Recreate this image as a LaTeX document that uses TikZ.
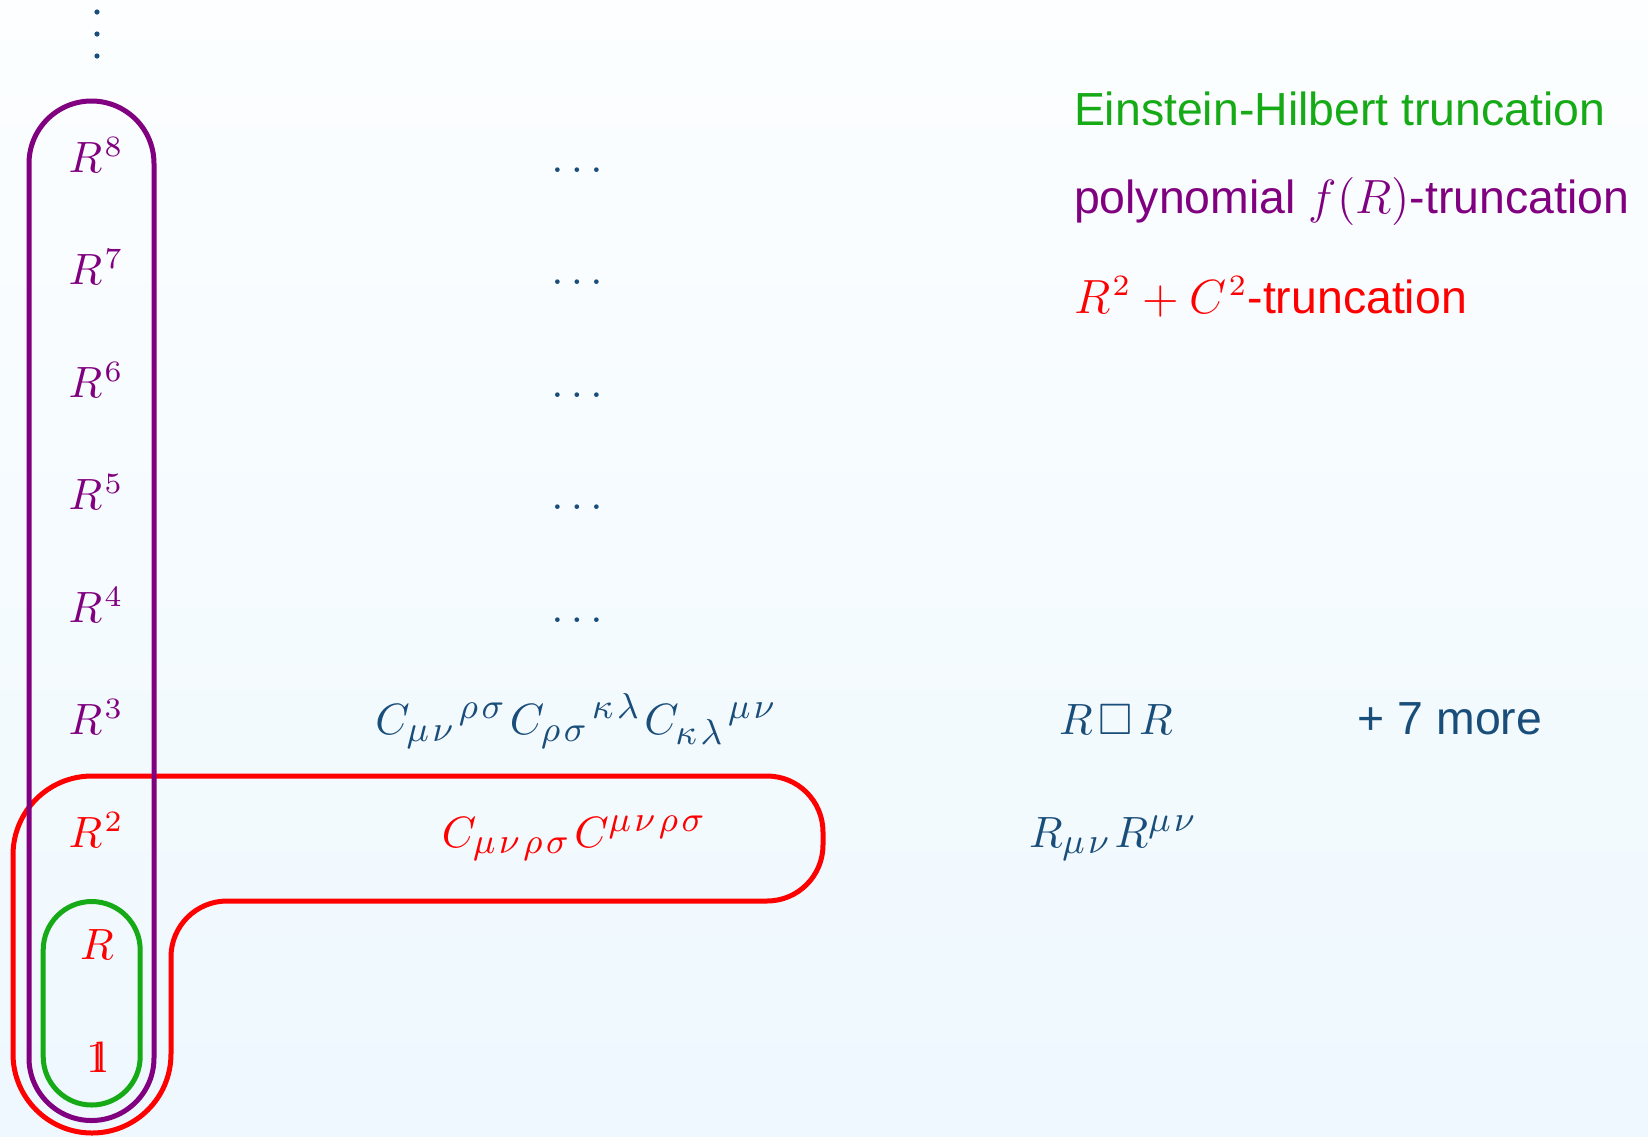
\documentclass[tikz,border=0pt]{standalone}
\usepackage{fontspec}
\usepackage{amssymb}
\newfontfamily\helv{Liberation Sans}
\DeclareMathSizes{11}{11}{9.2}{6.5}
\definecolor{ink}{RGB}{26,78,122}
\definecolor{ehgreen}{RGB}{22,170,22}
\definecolor{fpurple}{RGB}{128,0,128}
\definecolor{wred}{RGB}{255,0,0}
\definecolor{bgtop}{RGB}{252,254,255}
\definecolor{bgbottom}{RGB}{238,248,254}
% double-struck one built from an upright 1 and l
\newcommand{\unitone}{\mathrm{1\kern-0.28em l}}
% small spacing between index letters
\newcommand{\sgap}{\mkern1.8mu}
% small digit exponent, always in the roman face
\newcommand{\pw}[1]{^{\kern0.6pt\hbox{\rmfamily\fontsize{7.4}{8}\selectfont #1}}}
\begin{document}
\begin{tikzpicture}[x=0.25pt,y=-0.25pt,
  every node/.style={inner sep=0pt,outer sep=0pt,font=\fontsize{11}{13}\selectfont},
  term/.style={anchor=base},
  sans/.style={font=\fontsize{11.6}{14}\selectfont\helv},
  legend/.style={anchor=base west,sans},
  loop/.style={line width=1.25pt,line join=round}]
% background
\shade[top color=bgtop,bottom color=bgbottom] (0,0) rectangle (1648,1136);
\useasboundingbox (0,0) rectangle (1648,1136);

% vertical dots above the first column
\foreach \yy/\nm in {12/d1,34/d2,56/d3}
  \fill[ink] (97,\yy) circle (2.6) coordinate (\nm);

% R^2 + C^2 truncation
\draw[loop,wred] (92,776) -- (767,776) arc(270:360:56) -- (823,845)
  arc(0:90:56) -- (227,901) arc(270:180:56) -- (171,1054)
  arc(0:180:79) -- (13,855) arc(180:270:79) -- cycle;
% polynomial f(R) truncation
\draw[loop,fpurple] (29,163.5) arc(180:360:62.5) -- (154,1058)
  arc(0:180:62.5) -- cycle;
% Einstein-Hilbert truncation
\draw[loop,ehgreen] (43.2,950) arc(180:360:48.5) -- (140.2,1056.5)
  arc(0:180:48.5) -- cycle;

% first column: powers of R
\node[term,text=fpurple] (r8) at (96,172) {$R\pw{8}$};
\node[term,text=fpurple] (r7) at (96,284.5) {$R\pw{7}$};
\node[term,text=fpurple] (r6) at (96,397) {$R\pw{6}$};
\node[term,text=fpurple] (r5) at (96,509.5) {$R\pw{5}$};
\node[term,text=fpurple] (r4) at (96,622) {$R\pw{4}$};
\node[term,text=fpurple] (r3) at (96,734.5) {$R\pw{3}$};
\node[term,text=wred] (r2) at (96,847) {$R\pw{2}$};
\node[term,text=wred] (r1) at (97,959.5) {$R$};
\node[term,text=wred] (r0) at (97,1072) {$\unitone$};

% second column: Weyl invariants
\node[term,text=ink] (c8) at (577,172) {$\ldots$};
\node[term,text=ink] (c7) at (577,284.5) {$\ldots$};
\node[term,text=ink] (c6) at (577,397) {$\ldots$};
\node[term,text=ink] (c5) at (577,509.5) {$\ldots$};
\node[term,text=ink] (c4) at (577,622) {$\ldots$};
\node[term,text=ink] (c3) at (576,734.5)
  {$C_{\mu\sgap\nu\sgap}{}^{\rho\sgap\sigma\sgap}C_{\rho\sgap\sigma\sgap}{}^{\kappa\sgap\lambda\sgap}C_{\kappa\sgap\lambda\sgap}{}^{\mu\sgap\nu}$};
\node[term,text=wred] (c2) at (574,847)
  {$C_{\mu\sgap\nu\sgap\rho\sgap\sigma\sgap}C^{\mu\sgap\nu\sgap\rho\sgap\sigma}$};

% third column: remaining invariants
\node[term,text=ink] (b3) at (1116,734.5) {$R\mkern2.5mu\Box\mkern2.5mu R$};
\node[term,text=ink] (b2) at (1113,847) {$R_{\mu\sgap\nu\sgap}R^{\mu\sgap\nu}$};
\node[term,text=ink,sans] (more) at (1450,734.5) {+ 7 more};

% legend
\node[legend,text=ehgreen] (leh) at (1074,125) {Einstein-Hilbert truncation};
\node[legend,text=fpurple] (lfr) at (1074,213) {polynomial $f(R)$-truncation};
\node[legend,text=wred] (lrc) at (1074,313) {$R\pw{2}+C\pw{2}$-truncation};
\end{tikzpicture}
\end{document}
